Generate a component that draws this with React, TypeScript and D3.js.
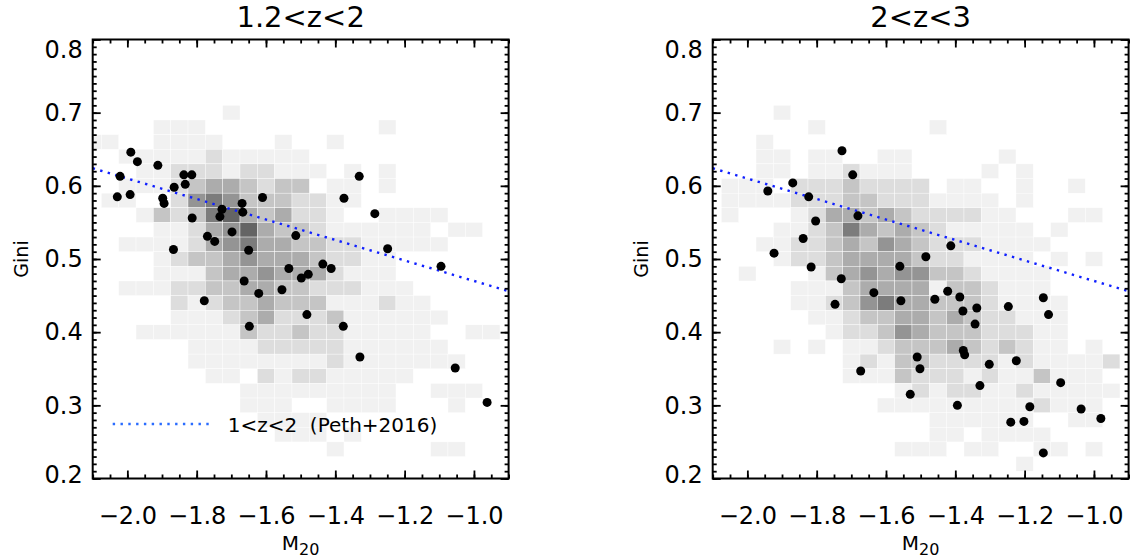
import React, { useEffect, useRef } from 'react';
import * as d3 from 'd3';

// bin centres of the 2D histogram (background grey squares)
const m20Bins = [-2.1, -2.05, -2.0, -1.95, -1.9, -1.85, -1.8, -1.75, -1.7, -1.65, -1.6, -1.55, -1.5,
  -1.45, -1.4, -1.35, -1.3, -1.25, -1.2, -1.15, -1.1, -1.05, -1.0, -0.95, -0.9];
const giniBins = [0.70, 0.68, 0.66, 0.64, 0.62, 0.60, 0.58, 0.56, 0.54, 0.52, 0.50, 0.48, 0.46,
  0.44, 0.42, 0.40, 0.38, 0.36, 0.34, 0.32, 0.30, 0.28, 0.26, 0.24, 0.22];

// grey level of every bin (0 = empty), one row per giniBins entry
const densityLow = [
  [0,0,0,0,0,0,0,0,1,0,0,0,0,0,0,0,0,0,0,0,0,0,0,0,0],
  [0,0,0,0,1,1,1,0,0,0,0,0,0,0,0,0,0,1,0,0,0,0,0,0,0],
  [1,1,0,0,1,1,1,1,0,0,0,1,0,0,1,0,0,0,0,0,0,0,0,0,0],
  [0,0,1,1,1,1,1,2,1,1,1,1,1,0,0,0,0,0,0,0,0,0,0,0,0],
  [0,0,0,1,1,2,2,2,1,2,2,1,1,1,0,1,0,1,0,0,0,0,0,0,0],
  [0,0,1,1,1,2,3,4,4,3,2,3,3,0,1,1,0,1,0,0,0,0,0,0,0],
  [0,1,1,0,0,2,5,6,5,3,3,3,2,2,1,1,0,0,0,0,0,0,0,0,0],
  [0,0,0,1,3,2,3,6,7,4,3,4,2,2,1,0,0,1,1,1,1,0,0,0,0],
  [0,0,0,0,1,1,2,4,5,7,4,3,3,2,1,1,1,1,1,1,0,1,1,0,0],
  [0,0,1,1,1,1,2,4,5,6,4,4,3,3,2,2,1,1,1,1,1,0,0,0,0],
  [0,0,0,0,1,2,3,3,4,5,4,4,4,3,2,2,1,1,0,0,0,0,0,0,0],
  [0,0,0,0,1,1,1,3,4,4,5,4,4,4,2,1,1,1,0,0,0,0,0,0,0],
  [0,0,1,1,1,2,2,3,3,4,4,3,3,2,2,2,1,1,1,0,0,0,0,0,0],
  [0,0,0,0,0,2,1,2,3,3,4,3,3,3,1,1,1,2,1,1,0,0,0,0,0],
  [0,0,0,0,0,1,1,1,2,3,4,2,2,2,3,1,1,1,1,1,1,0,0,0,0],
  [0,0,0,1,1,1,1,1,1,3,2,2,3,2,2,1,1,1,1,1,0,0,1,1,0],
  [0,0,0,0,0,0,1,1,1,1,2,2,2,2,2,1,1,1,1,1,1,0,0,0,0],
  [0,0,0,0,0,0,1,1,1,1,1,1,1,1,2,1,1,1,1,1,1,1,0,0,0],
  [0,0,0,0,0,0,0,1,1,0,2,1,2,2,1,1,1,1,1,0,0,0,0,0,0],
  [0,0,0,0,0,0,0,0,0,1,1,1,1,1,1,1,1,1,0,0,1,1,1,0,0],
  [0,0,0,0,0,0,0,0,0,1,1,1,0,0,1,1,1,1,0,0,0,1,0,0,0],
  [0,0,0,0,0,0,0,0,0,0,1,1,1,1,0,0,0,0,0,0,0,0,0,0,0],
  [0,0,0,0,0,0,0,0,0,0,0,1,1,1,0,1,0,0,0,0,0,0,0,0,0],
  [0,0,0,0,0,0,0,0,0,0,0,0,0,0,1,0,0,0,0,0,1,1,0,0,0],
  [0,0,0,0,0,0,0,0,0,0,0,0,0,0,0,0,0,0,0,0,0,0,0,0,0],
];
const densityHigh = [
  [0,0,0,0,1,0,0,0,0,0,0,0,0,0,0,0,0,0,0,0,0,0,0,0,0],
  [0,0,0,0,0,0,1,0,0,0,0,0,0,1,0,0,0,0,0,0,0,0,0,0,0],
  [0,0,0,1,0,0,0,0,0,0,0,0,0,0,0,0,0,0,0,0,0,0,0,0,0],
  [0,0,0,1,1,0,1,1,0,0,1,1,0,0,0,0,0,1,0,0,0,0,0,0,0],
  [0,0,0,1,1,0,1,1,2,1,1,1,0,0,0,0,1,0,1,0,0,0,0,0,0],
  [0,1,1,1,0,2,2,2,3,2,2,2,2,0,1,1,0,0,1,0,0,1,0,0,0],
  [0,1,1,1,1,2,2,2,3,3,2,2,2,1,1,1,1,0,1,0,0,0,0,0,0],
  [0,1,0,0,0,1,2,4,4,3,4,3,2,2,2,2,1,1,0,0,0,1,1,0,0],
  [0,0,0,0,1,1,2,3,6,4,3,4,3,2,1,1,1,1,1,0,1,0,0,0,0],
  [0,0,0,1,1,2,2,3,4,3,5,4,3,2,2,2,1,1,1,1,0,0,0,0,0],
  [0,0,0,0,1,2,2,3,4,4,4,4,3,2,2,1,1,1,1,0,1,0,1,0,0],
  [0,0,1,0,0,0,1,3,4,5,4,5,5,3,3,2,1,1,1,1,0,0,0,0,0],
  [0,0,0,0,0,1,1,1,3,4,4,4,4,1,3,3,2,1,1,1,0,0,0,0,0],
  [0,0,0,0,0,1,1,2,3,5,6,4,4,3,3,3,2,1,1,1,1,0,0,0,0],
  [0,0,0,0,0,0,1,1,2,3,3,4,4,3,4,3,2,2,1,1,1,0,0,0,0],
  [0,0,0,0,0,0,0,1,2,2,3,5,4,3,3,3,2,2,2,1,1,0,0,0,0],
  [0,0,0,0,1,0,1,0,1,1,2,3,3,3,4,3,2,3,2,1,1,0,1,0,0],
  [0,0,0,0,0,0,0,0,1,2,1,3,3,2,2,2,2,1,2,1,1,1,1,2,0],
  [0,0,0,0,0,0,0,0,1,1,1,3,2,2,2,1,2,1,1,3,1,1,1,0,0],
  [0,0,0,0,0,0,0,0,0,0,0,1,2,1,2,2,1,1,2,1,1,1,1,1,0],
  [0,0,0,0,0,0,0,0,0,0,1,1,1,1,1,1,1,1,1,2,1,1,1,0,0],
  [0,0,0,0,0,0,0,0,0,0,0,0,0,1,1,1,1,1,1,0,0,1,1,0,0],
  [0,0,0,0,0,0,0,0,0,0,0,0,0,1,1,0,1,1,1,1,0,0,0,0,0],
  [0,0,0,0,0,0,0,0,0,0,0,1,1,1,0,1,1,0,0,1,1,0,1,0,0],
  [0,0,0,0,0,0,0,0,0,0,0,0,0,0,0,0,0,0,1,0,0,0,0,0,0],
];

// black points, 1.2<z<2
const lowM20 = [-1.990, -1.971, -2.021, -1.912, -1.837, -1.814, -1.833, -1.865, -2.029, -1.992,
  -1.898, -1.894, -1.813, -1.727, -1.733, -1.669, -1.667, -1.610, -1.698, -1.769, -1.748, -1.650,
  -1.867, -1.514, -1.331, -1.375, -1.286, -1.249, -1.534, -1.498, -1.478, -1.436, -1.412, -1.663,
  -1.621, -1.554, -1.778, -1.482, -1.648, -1.377, -1.329, -1.095, -1.054, -0.962];
const lowGini = [0.646, 0.633, 0.613, 0.628, 0.615, 0.615, 0.602, 0.598, 0.585, 0.588,
  0.583, 0.576, 0.556, 0.568, 0.558, 0.576, 0.564, 0.584, 0.537, 0.531, 0.524, 0.512,
  0.513, 0.532, 0.613, 0.583, 0.562, 0.514, 0.487, 0.474, 0.479, 0.493, 0.487, 0.470,
  0.453, 0.458, 0.443, 0.424, 0.408, 0.408, 0.366, 0.490, 0.351, 0.304];

// black points, 2<z<3
const highM20 = [-1.727, -1.696, -1.869, -1.941, -1.823, -1.681, -1.803, -1.839, -1.923, -1.816,
  -1.729, -1.560, -1.635, -1.557, -1.747, -1.510, -1.502, -1.673, -1.530, -1.413, -1.485, -1.422,
  -1.387, -1.459, -1.378, -1.338, -1.343, -1.247, -1.146, -1.131, -1.377, -1.373, -1.302, -1.224,
  -1.329, -1.096, -1.394, -1.185, -1.037, -0.980, -1.240, -1.202, -1.146];
const highGini = [0.648, 0.615, 0.604, 0.593, 0.585, 0.559, 0.552, 0.528, 0.508, 0.489,
  0.473, 0.490, 0.454, 0.443, 0.438, 0.366, 0.350, 0.347, 0.315, 0.518, 0.503, 0.456,
  0.448, 0.445, 0.429, 0.433, 0.411, 0.435, 0.447, 0.424, 0.375, 0.369, 0.356, 0.361,
  0.327, 0.331, 0.300, 0.298, 0.295, 0.282, 0.277, 0.278, 0.235];

// Peth+2016 relation, 1<z<2
const pethM20 = [-2.1, -0.9];
const pethGini = [0.624, 0.456];

const greys = ['#ffffff', '#f1f1f1', '#dddddd', '#c5c5c5', '#acacac', '#949494', '#7c7c7c', '#646464'];
const FONT = 'DejaVu Sans';
const TOP = 39.5;
const BOTTOM = 478.5;
const PW = 415.9;

type PanelProps = {
  x0: number;
  title: string;
  density: number[][];
  m20: number[];
  gini: number[];
  legend?: string;
};

const Panel = ({ x0, title, density, m20, gini, legend }: PanelProps) => {
  const ref = useRef<SVGGElement>(null);

  useEffect(() => {
    const g = d3.select(ref.current);
    g.selectAll('*').remove();

    const x = d3.scaleLinear().domain([-2.1, -0.9]).range([x0, x0 + PW]);
    const y = d3.scaleLinear().domain([0.2, 0.8]).range([BOTTOM, TOP]);
    const cx = x0 + PW / 2;

    // 2D histogram
    const cells: { m: number; gi: number; v: number }[] = [];
    density.forEach((row, j) =>
      row.forEach((v, i) => {
        if (v > 0) cells.push({ m: m20Bins[i], gi: giniBins[j], v });
      })
    );
    const cx0 = (d) => Math.max(x0, x(d.m - 0.025));
    const cx1 = (d) => Math.min(x0 + PW, x(d.m + 0.025));
    g.append('g')
      .selectAll('rect')
      .data(cells)
      .join('rect')
      .attr('x', cx0)
      .attr('width', (d) => cx1(d) - cx0(d))
      .attr('y', (d) => y(d.gi + 0.01))
      .attr('height', (d) => y(d.gi - 0.01) - y(d.gi + 0.01))
      .attr('fill', (d) => greys[d.v])
      .attr('stroke', '#fff')
      .attr('stroke-width', 0.4);

    // Peth relation
    const line = d3.line<number>().x((d) => x(d)).y((d, i) => y(pethGini[i]));
    g.append('path')
      .attr('d', line(pethM20))
      .attr('fill', 'none')
      .attr('stroke', '#1020ff')
      .attr('stroke-width', 2.4)
      .attr('stroke-dasharray', '2.4 5.4');

    // galaxies
    g.append('g')
      .selectAll('circle')
      .data(m20)
      .join('circle')
      .attr('cx', (d) => x(d))
      .attr('cy', (d, i) => y(gini[i]))
      .attr('r', 4.5)
      .attr('fill', '#000');

    // frame ticks, all four sides, pointing in
    const minorX = x.ticks(24);
    const majorX = x.ticks(6);
    const minorY = y.ticks(60);
    const majorY = y.ticks(6);
    const addAxis = (axis, tx, ty) => {
      const a = g.append('g').attr('transform', `translate(${tx},${ty})`).call(axis);
      a.select('.domain').remove();
      a.selectAll('line').attr('stroke', '#000').attr('stroke-width', 1.8);
      a.attr('font-family', FONT).attr('font-size', 24);
      a.selectAll('text').attr('fill', '#000');
      return a;
    };
    const blank = () => '';
    addAxis(d3.axisBottom(x).tickValues(minorX).tickSize(-4).tickFormat(blank), 0, BOTTOM);
    addAxis(d3.axisTop(x).tickValues(minorX).tickSize(-4).tickFormat(blank), 0, TOP);
    addAxis(d3.axisTop(x).tickValues(majorX).tickSize(-8).tickFormat(blank), 0, TOP);
    addAxis(
      d3.axisBottom(x).tickValues(majorX).tickSize(-8).tickPadding(28).tickFormat(d3.format('.1f')),
      0,
      BOTTOM
    );
    addAxis(d3.axisRight(y).tickValues(minorY).tickSize(-4).tickFormat(blank), x0 + PW, 0);
    addAxis(d3.axisRight(y).tickValues(majorY).tickSize(-8).tickFormat(blank), x0 + PW, 0);
    addAxis(d3.axisLeft(y).tickValues(minorY).tickSize(-4).tickFormat(blank), x0, 0);
    const yl = addAxis(
      d3.axisLeft(y).tickValues(majorY).tickSize(-8).tickPadding(10).tickFormat(d3.format('.1f')),
      x0,
      0
    );
    // end labels sit inside the frame height
    yl.selectAll('text').attr('y', (d) => (d >= 0.8 ? 10 : d <= 0.2 ? -4 : 0));

    g.append('rect')
      .attr('x', x0)
      .attr('y', TOP)
      .attr('width', PW)
      .attr('height', BOTTOM - TOP)
      .attr('fill', 'none')
      .attr('stroke', '#000')
      .attr('stroke-width', 2);

    // titles
    g.append('text')
      .attr('x', cx)
      .attr('y', 27)
      .attr('text-anchor', 'middle')
      .attr('font-family', FONT)
      .attr('font-size', 29)
      .text(title);

    const xl = g.append('text')
      .attr('x', cx)
      .attr('y', 550)
      .attr('text-anchor', 'middle')
      .attr('font-family', FONT)
      .attr('font-size', 20)
      .text('M');
    xl.append('tspan').attr('dy', 5).attr('font-size', 16).text('20');

    g.append('text')
      .attr('transform', `translate(${x0 - 65},${(TOP + BOTTOM) / 2}) rotate(-90)`)
      .attr('text-anchor', 'middle')
      .attr('font-family', FONT)
      .attr('font-size', 19)
      .text('Gini');

    if (legend) {
      g.append('line')
        .attr('x1', x0 + 20)
        .attr('x2', x0 + 118)
        .attr('y1', 424)
        .attr('y2', 424)
        .attr('stroke', '#2a6cff')
        .attr('stroke-width', 2.4)
        .attr('stroke-dasharray', '2.4 5.4');
      g.append('text')
        .attr('x', x0 + 135)
        .attr('y', 432)
        .attr('font-family', FONT)
        .attr('font-size', 20)
        .attr('xml:space', 'preserve')
        .text(legend);
    }
  }, [x0, title, density, m20, gini, legend]);

  return <g ref={ref}></g>;
};

export default function App() {
  return (
    <svg
      width={1132}
      height={559}
      style={{ position: 'absolute', left: 0, top: 0, background: '#fff' }}
    >
      <Panel x0={92.7} title="1.2<z<2" density={densityLow} m20={lowM20} gini={lowGini}
        legend={'1<z<2\u00a0\u00a0(Peth+2016)'} />
      <Panel x0={712.7} title="2<z<3" density={densityHigh} m20={highM20} gini={highGini} />
    </svg>
  );
}
